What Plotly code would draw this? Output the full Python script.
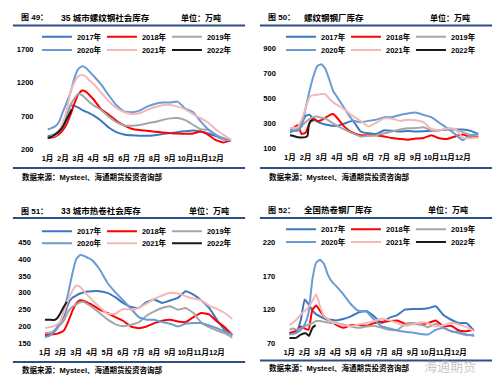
import plotly.graph_objects as go

# ---------------- data ----------------
MONTH_POS = [0, 0.25, 0.5, 0.75, 1, 1.25, 1.5, 1.75, 2, 2.25, 2.5, 2.75, 3, 3.5, 4, 4.5,
             5, 5.5, 6, 6.5, 7, 7.5, 8, 8.5, 9, 9.5, 10, 10.5, 11, 11.5, 12]
MONTH_LABELS = ["1月", "2月", "3月", "4月", "5月", "6月", "7月", "8月", "9月", "10月", "11月", "12月"]
YEARS = ["2017年", "2018年", "2019年", "2020年", "2021年", "2022年"]

# 图49 35城市螺纹钢社会库存
rebar_social_2017 = [400, 410, 430, 480, 560, 700, 860, 850, 830, 790, 765, 740, 710, 630, 530, 460,
                     425, 412, 405, 405, 415, 430, 445, 460, 475, 485, 470, 440, 400, 350, 335]
rebar_social_2018 = [370, 378, 395, 430, 490, 580, 720, 880, 1020, 1080, 1065, 1010, 950, 800, 720, 630,
                     560, 510, 490, 480, 467, 455, 445, 438, 435, 440, 470, 420, 340, 305, 340]
rebar_social_2019 = [380, 395, 425, 470, 530, 640, 860, 960, 1030, 1010, 960, 905, 860, 790, 690, 610,
                     560, 555, 565, 590, 610, 640, 665, 670, 640, 570, 505, 495, 420, 350, 340]
rebar_social_2020 = [500, 520, 545, 610, 760, 900, 1050, 1260, 1400, 1440, 1420, 1360, 1300, 1170, 1010, 860,
                     770, 755, 780, 840, 880, 900, 900, 915, 810, 760, 620, 500, 420, 370, 340]
rebar_social_2021 = [380, 390, 410, 470, 600, 780, 1050, 1200, 1290, 1310, 1290, 1230, 1180, 1050, 920, 820,
                     760, 730, 740, 790, 830, 860, 865, 840, 800, 730, 670, 600, 500, 420, 345]
rebar_social_2022_x = [0, 0.25, 0.5, 0.75, 1, 1.25, 1.5, 1.6]
rebar_social_2022 = [375, 390, 425, 470, 540, 650, 760, 800]

# 图50 螺纹钢钢厂库存
rebar_mill_2017 = [230, 240, 255, 300, 360, 370, 330, 315, 300, 291, 285, 280, 280, 300, 320, 235,
                   220, 215, 245, 240, 235, 238, 235, 237, 240, 245, 250, 250, 250, 240, 215]
rebar_mill_2018 = [240, 265, 285, 215, 225, 300, 340, 320, 325, 345, 365, 375, 345, 270, 225, 205,
                   205, 205, 195, 182, 175, 168, 178, 182, 205, 180, 175, 195, 210, 188, 190]
rebar_mill_2019 = [240, 250, 260, 280, 310, 335, 350, 355, 345, 340, 320, 300, 280, 250, 220, 195,
                   200, 205, 220, 235, 250, 260, 262, 268, 245, 242, 258, 252, 230, 205, 210]
rebar_mill_2020 = [250, 240, 240, 275, 420, 560, 680, 762, 775, 740, 655, 560, 513, 415, 325, 310,
                   320, 330, 350, 350, 368, 380, 388, 368, 350, 305, 262, 215, 165, 205, 212]
rebar_mill_2021 = [265, 262, 270, 330, 420, 510, 527, 530, 535, 535, 500, 470, 448, 410, 360, 320,
                   275, 305, 340, 338, 320, 330, 325, 310, 255, 245, 258, 255, 185, 180, 186]
rebar_mill_2022_x = [0, 0.25, 0.5, 0.75, 1.0, 1.12, 1.2, 1.3, 1.5]
rebar_mill_2022 = [205, 198, 188, 187, 190, 200, 280, 318, 325]

# 图51 33城市热卷社会库存
hrc_social_2017 = [170, 172, 180, 192, 210, 235, 268, 285, 292, 298, 302, 304, 305, 305, 300, 287,
                   270, 258, 255, 272, 280, 270, 277, 285, 305, 295, 278, 255, 220, 190, 175]
hrc_social_2018 = [175, 176, 177, 178, 182, 190, 215, 245, 268, 278, 276, 270, 265, 250, 240, 228,
                   217, 200, 195, 200, 210, 217, 220, 215, 213, 228, 240, 236, 215, 198, 174]
hrc_social_2019 = [180, 181, 184, 195, 205, 220, 245, 258, 266, 272, 273, 266, 258, 240, 221, 207,
                   201, 205, 212, 232, 245, 255, 260, 250, 255, 240, 212, 198, 188, 180, 166]
hrc_social_2020 = [168, 172, 180, 195, 215, 250, 300, 355, 400, 412, 410, 404, 398, 370, 330, 302,
                   278, 253, 228, 220, 220, 213, 208, 200, 208, 210, 210, 203, 195, 185, 175]
hrc_social_2021 = [195, 198, 200, 205, 215, 245, 280, 305, 322, 318, 305, 292, 280, 258, 238, 238,
                   252, 250, 255, 268, 282, 292, 300, 298, 290, 283, 278, 262, 252, 240, 222]
hrc_social_2022_x = [0, 0.3, 0.6, 0.8, 1.0, 1.2, 1.4]
hrc_social_2022 = [220, 220, 219, 225, 240, 258, 273]

# 图52 全国热卷钢厂库存
hrc_mill_2017 = [85, 87, 88, 105, 135, 128, 119, 113, 110, 107, 105, 105, 104, 106, 110, 116,
                 118, 110, 100, 108, 112, 120, 121, 121, 122, 125, 112, 105, 100, 100, 88]
hrc_mill_2018 = [85, 87, 89, 95, 92, 90, 120, 126, 118, 110, 106, 102, 98, 93, 97, 97,
                 96, 100, 102, 103, 104, 99, 99, 98, 100, 104, 95, 96, 89, 88, 90]
hrc_mill_2019 = [90, 92, 90, 92, 95, 98, 100, 103, 103, 102, 101, 100, 100, 98, 95, 93,
                 95, 96, 93, 90, 90, 98, 100, 98, 94, 99, 93, 88, 85, 82, 83]
hrc_mill_2020 = [83, 84, 86, 90, 98, 115, 165, 190, 194, 188, 172, 162, 156, 143, 128, 118,
                 117, 105, 95, 92, 89, 87, 86, 84, 83, 90, 93, 88, 86, 83, 81]
hrc_mill_2021 = [97, 101, 106, 113, 118, 124, 133, 143, 125, 110, 106, 102, 100, 97, 95, 98,
                 100, 103, 107, 104, 100, 96, 98, 101, 100, 95, 97, 100, 98, 94, 88]
hrc_mill_2022_x = [0, 0.43, 0.75, 1.07, 1.28, 1.5, 1.71]
hrc_mill_2022 = [78, 78, 83, 85, 81, 93, 97]

TITLES = [("图 49：", "35 城市螺纹钢社会库存"), ("图 50：", "螺纹钢钢厂库存"),
          ("图 51：", "33 城市热卷社会库存"), ("图 52：", "全国热卷钢厂库存")]
UNIT = "单位：万吨"
SOURCE = "数据来源：Mysteel、海通期货投资咨询部"

# ---------------- styling ----------------
W, H = 500, 390
COLORS = ["#3C78C0", "#FF0000", "#A6A6A6", "#6A9BD3", "#F4B8B8", "#1A1A1A"]
FONT = "Liberation Sans, Arial, Noto Sans CJK SC, sans-serif"
RULE = "#2E4F85"

def px(x):
    return x / W

def py(y):
    return 1 - y / H

panels = [
    dict(series=[rebar_social_2017, rebar_social_2018, rebar_social_2019, rebar_social_2020, rebar_social_2021],
         x22=rebar_social_2022_x, y22=rebar_social_2022,
         xdom=[42, 228], ydom=[149, 46], yr=[200, 1700], yt=[200, 700, 1200, 1700],
         ox=0, oy=0, title_y=14, rule_top=22, rule_bot=168, src_y=177, leg_y=(33.5, 47), leg_cx=130,
         unit_x=220),
    dict(series=[rebar_mill_2017, rebar_mill_2018, rebar_mill_2019, rebar_mill_2020, rebar_mill_2021],
         x22=rebar_mill_2022_x, y22=rebar_mill_2022,
         xdom=[287.3, 478.3], ydom=[147.7, 45.7], yr=[100, 900], yt=[100, 300, 500, 700, 900],
         ox=250, oy=0, title_y=14, rule_top=22, rule_bot=168, src_y=177, leg_y=(33.5, 47), leg_cx=377,
         unit_x=472),
    dict(series=[hrc_social_2017, hrc_social_2018, hrc_social_2019, hrc_social_2020, hrc_social_2021],
         x22=hrc_social_2022_x, y22=hrc_social_2022,
         xdom=[39.3, 229.3], ydom=[347.3, 244], yr=[150, 450], yt=[150, 200, 250, 300, 350, 400, 450],
         ox=0, oy=195, title_y=212, rule_top=219, rule_bot=366.5, src_y=375, leg_y=(232.5, 245), leg_cx=130,
         unit_x=228),
    dict(series=[hrc_mill_2017, hrc_mill_2018, hrc_mill_2019, hrc_mill_2020, hrc_mill_2021],
         x22=hrc_mill_2022_x, y22=hrc_mill_2022,
         xdom=[286.7, 474], ydom=[347.3, 244], yr=[70, 220], yt=[70, 120, 170, 220],
         ox=250, oy=195, title_y=211, rule_top=219, rule_bot=365, src_y=373, leg_y=(230.5, 243.5), leg_cx=377,
         unit_x=470),
]

fig = go.Figure()
layout_extra = {}
annotations = []
shapes = []

for i, p in enumerate(panels):
    n = i + 1
    xa = "x" if n == 1 else f"x{n}"
    ya = "y" if n == 1 else f"y{n}"
    leg_a = "legend" if n == 1 else f"legend{2 * n - 1}"
    leg_b = f"legend{2 * n}"
    all_x = [MONTH_POS] * 5 + [p["x22"]]
    all_y = p["series"] + [p["y22"]]
    for k in range(6):
        fig.add_trace(go.Scatter(
            x=all_x[k], y=all_y[k], mode="lines", name=YEARS[k],
            line=dict(color=COLORS[k], width=2, shape="spline", smoothing=0.4),
            xaxis=xa, yaxis=ya, legend=leg_a if k < 3 else leg_b,
            hoverinfo="skip"))

    xkey = "xaxis" if n == 1 else f"xaxis{n}"
    ykey = "yaxis" if n == 1 else f"yaxis{n}"
    layout_extra[xkey] = dict(
        domain=[px(p["xdom"][0]), px(p["xdom"][1])], range=[0, 12], anchor=ya,
        tickmode="array", tickvals=list(range(12)), ticktext=MONTH_LABELS, tickangle=0,
        showgrid=False, zeroline=False, showline=False, ticks="", ticklabelstandoff=3,
        tickfont=dict(family=FONT, size=7.5, color="#000", weight="bold"), fixedrange=True)
    layout_extra[ykey] = dict(
        domain=[py(p["ydom"][0]), py(p["ydom"][1])], range=p["yr"], anchor=xa,
        tickmode="array", tickvals=p["yt"], showgrid=False, zeroline=False, showline=False,
        ticks="", ticklabelstandoff=13,
        tickfont=dict(family=FONT, size=7.5, color="#000", weight="bold"), fixedrange=True)

    for lk, ly in ((leg_a, p["leg_y"][0]), (leg_b, p["leg_y"][1])):
        layout_extra[lk] = dict(
            orientation="h", x=px(p["leg_cx"]), xanchor="center", y=py(ly), yanchor="middle",
            bgcolor="rgba(0,0,0,0)", borderwidth=0, entrywidth=20, itemwidth=30,
            font=dict(family=FONT, size=7.5, color="#000", weight="bold"),
            tracegroupgap=0, itemclick=False, itemdoubleclick=False)

    ox, oy = p["ox"], p["oy"]
    # titles
    annotations.append(dict(text="<b>" + TITLES[i][0] + "</b>", x=px(ox + 13), y=py(p["title_y"]),
                            xref="paper", yref="paper", xanchor="left", yanchor="middle", showarrow=False,
                            font=dict(family=FONT, size=8, color="#000")))
    annotations.append(dict(text="<b>" + TITLES[i][1] + "</b>", x=px(ox + (54 if i % 2 == 0 else 50)),
                            y=py(p["title_y"]), xref="paper", yref="paper", xanchor="left", yanchor="middle",
                            showarrow=False, font=dict(family=FONT, size=8.5, color="#000")))
    annotations.append(dict(text="<b>" + UNIT + "</b>", x=px(p["unit_x"]), y=py(p["title_y"]),
                            xref="paper", yref="paper", xanchor="right", yanchor="middle", showarrow=False,
                            font=dict(family=FONT, size=8, color="#000")))
    annotations.append(dict(text="<b>" + SOURCE + "</b>", x=px(ox + 14), y=py(p["src_y"]),
                            xref="paper", yref="paper", xanchor="left", yanchor="middle", showarrow=False,
                            font=dict(family=FONT, size=7.5, color="#000")))
    # rules
    for ry in (p["rule_top"], p["rule_bot"]):
        shapes.append(dict(type="line", xref="paper", yref="paper",
                           x0=px(ox + 7), x1=px(ox + 242), y0=py(ry), y1=py(ry),
                           line=dict(color=RULE, width=2)))

# watermark
annotations.append(dict(text="海通期货", x=px(478), y=py(370), xref="paper", yref="paper",
                        xanchor="right", yanchor="middle", showarrow=False,
                        font=dict(family="Noto Sans CJK SC", size=13, color="rgba(150,150,150,0.55)")))

fig.update_layout(
    width=W, height=H, margin=dict(l=0, r=0, t=0, b=0),
    paper_bgcolor="white", plot_bgcolor="rgba(0,0,0,0)",
    showlegend=True, annotations=annotations, shapes=shapes,
    font=dict(family=FONT, color="#000"),
    **layout_extra)

# remove the default page margin so the 500x390 figure sits at the window origin
fig.write_html("out.html", config={"displayModeBar": False},
               post_script="document.body.style.margin='0px';document.body.style.padding='0px';")
